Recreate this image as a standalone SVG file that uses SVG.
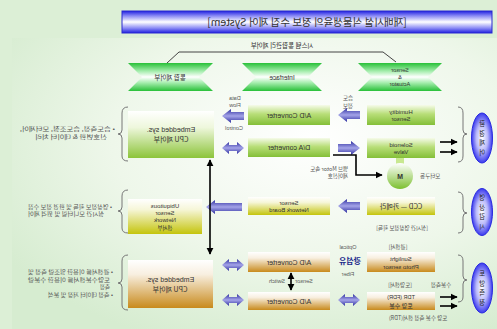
<svg xmlns="http://www.w3.org/2000/svg" width="497" height="329" viewBox="0 0 497 329">
<defs>
<style>
text { font-family: "Noto Sans CJK KR", "Noto Sans", sans-serif; fill: #333; }
.lat { font-family: "Liberation Sans", "Noto Sans CJK KR", sans-serif; }
.box { font-size: 7px; text-anchor: middle; fill: #333; }
.sm { font-size: 5.5px; fill: #555; text-anchor: middle; }
.desc { font-size: 5.5px; fill: #555; }
.brace { fill: none; stroke: #777; stroke-width: 1; }
.blk { stroke: #000; stroke-width: 1.6; fill: none; }
.ell { fill: url(#gEll); stroke: #2b2be0; stroke-width: 1; }
.vt { font-size: 6.3px; text-anchor: middle; fill: #222; }
</style>
<radialGradient id="gBg" cx="0.62" cy="0.35" r="0.75">
<stop offset="0" stop-color="#ffffff"/>
<stop offset="0.55" stop-color="#eef7ea"/>
<stop offset="1" stop-color="#d6ecd0"/>
</radialGradient>
<linearGradient id="gTitle" x1="0" y1="0" x2="0" y2="1">
<stop offset="0" stop-color="#2020e0"/>
<stop offset="0.22" stop-color="#8a8af5"/>
<stop offset="0.5" stop-color="#ffffff"/>
<stop offset="0.78" stop-color="#8a8af5"/>
<stop offset="1" stop-color="#2020e0"/>
</linearGradient>
<linearGradient id="gHead" x1="0" y1="0" x2="0" y2="1">
<stop offset="0" stop-color="#28c038"/>
<stop offset="0.3" stop-color="#a8eeb0"/>
<stop offset="0.5" stop-color="#ffffff"/>
<stop offset="0.7" stop-color="#a8eeb0"/>
<stop offset="1" stop-color="#28c038"/>
</linearGradient>
<linearGradient id="gGreen" x1="0" y1="0" x2="0" y2="1">
<stop offset="0" stop-color="#ffffff"/>
<stop offset="0.35" stop-color="#eef7dc"/>
<stop offset="1" stop-color="#8cc43a"/>
</linearGradient>
<linearGradient id="gBar" x1="0" y1="0" x2="0" y2="1">
<stop offset="0" stop-color="#f6fbea"/>
<stop offset="0.45" stop-color="#b8de78"/>
<stop offset="1" stop-color="#84bf38"/>
</linearGradient>
<linearGradient id="gYellow" x1="0" y1="0" x2="0" y2="1">
<stop offset="0" stop-color="#ffffff"/>
<stop offset="0.3" stop-color="#f6f6d8"/>
<stop offset="1" stop-color="#c4c40c"/>
</linearGradient>
<linearGradient id="gOrange" x1="0" y1="0" x2="0" y2="1">
<stop offset="0" stop-color="#ffffff"/>
<stop offset="0.3" stop-color="#f8efe0"/>
<stop offset="1" stop-color="#c88a1c"/>
</linearGradient>
<linearGradient id="gCircle" x1="0" y1="0" x2="0" y2="1">
<stop offset="0" stop-color="#ffffff"/>
<stop offset="1" stop-color="#7cc030"/>
</linearGradient>
<radialGradient id="gEll" cx="0.5" cy="0.5" r="0.5">
<stop offset="0" stop-color="#ffffff"/>
<stop offset="0.55" stop-color="#b8b8fa"/>
<stop offset="1" stop-color="#3a3aee"/>
</radialGradient>
<linearGradient id="gArr" x1="0" y1="0" x2="0" y2="1">
<stop offset="0" stop-color="#2e2ea0"/>
<stop offset="0.5" stop-color="#a4a4e8"/>
<stop offset="1" stop-color="#2e2ea0"/>
</linearGradient>
<polygon id="arrL" points="0,0 9,-7 9,-4 22,-4 22,4 9,4 9,7" fill="url(#gArr)"/>
<polygon id="arrLL" points="0,0 9,-7 9,-4 36,-4 36,4 9,4 9,7" fill="url(#gArr)"/>
<polygon id="arrD" points="0,0 7,-6 7,-3 15,-3 15,-6 22,0 15,6 15,3 7,3 7,6" fill="url(#gArr)"/>
<marker id="ah" viewBox="0 0 10 10" refX="9" refY="5" markerWidth="4.5" markerHeight="4.5" orient="auto-start-reverse"><path d="M0,0 L10,5 L0,10 z" fill="#000"/></marker>
</defs>

<rect width="497" height="329" fill="#dcefd6"/>
<rect x="12" y="38" width="485" height="291" fill="url(#gBg)"/>

<g id="title">
<rect x="122" y="11" width="370" height="22" fill="url(#gTitle)" stroke="#2a2ad0" stroke-width="1"/>
<text transform="matrix(-1 0 0 1 614 0)" x="307" y="25.5" style="font-size:10.5px;text-anchor:middle;fill:#333">[재배시설 식물생육의 정보 수집 제어 System]</text>
</g>

<g id="system-label">
<path d="M167,63 L179,52 L383,52 L396,62" fill="none" stroke="#444" stroke-width="1"/>
<text transform="matrix(-1 0 0 1 564 0)" x="282" y="48" style="font-size:6.5px;text-anchor:middle;fill:#333">시스템 통합관리 제어부</text>
</g>

<g id="header-control">
<polygon points="128,63 213,63 199,77 213,91 128,91 142,77" fill="url(#gHead)"/>
<text transform="matrix(-1 0 0 1 340 0)" x="170" y="79.5" style="font-size:6.5px;text-anchor:middle">통합 제어부</text>
</g>
<g id="header-interface">
<polygon points="242,63 322,63 308,77 322,91 242,91 256,77" fill="url(#gHead)"/>
<text transform="matrix(-1 0 0 1 564 0)" class="lat" x="282" y="79.5" style="font-size:6.5px;text-anchor:middle">Interface</text>
</g>
<g id="header-sensor">
<polygon points="358,63 442,63 428,77 442,91 358,91 372,77" fill="url(#gHead)"/>
<text transform="matrix(-1 0 0 1 800 0)" class="lat" x="400" y="72" style="font-size:5.5px;text-anchor:middle">Sensor</text>
<text transform="matrix(-1 0 0 1 800 0)" class="lat" x="400" y="79" style="font-size:5.5px;text-anchor:middle">&amp;</text>
<text transform="matrix(-1 0 0 1 800 0)" class="lat" x="400" y="86" style="font-size:5.5px;text-anchor:middle">Actuator</text>
</g>

<g id="cpu-top">
<rect x="128" y="111" width="86" height="47" fill="url(#gGreen)"/>
<text transform="matrix(-1 0 0 1 342 0)" class="box lat" x="171" y="132">Embedded sys.</text>
<text transform="matrix(-1 0 0 1 342 0)" class="box" x="171" y="142">CPU 제어부</text>
</g>
<g id="usn">
<rect x="128" y="199" width="74" height="35" fill="url(#gYellow)"/>
<text transform="matrix(-1 0 0 1 330 0)" class="box lat" x="165" y="208" style="font-size:6px">Ubiquitous</text>
<text transform="matrix(-1 0 0 1 330 0)" class="box lat" x="165" y="215" style="font-size:6px">Sensor</text>
<text transform="matrix(-1 0 0 1 330 0)" class="box lat" x="165" y="222" style="font-size:6px">Network</text>
<text transform="matrix(-1 0 0 1 330 0)" class="box" x="165" y="229.5" style="font-size:5.5px">센서부</text>
</g>
<g id="cpu-bottom">
<rect x="128" y="260" width="85" height="48" fill="url(#gOrange)"/>
<text transform="matrix(-1 0 0 1 340 0)" class="box lat" x="170" y="282">Embedded sys.</text>
<text transform="matrix(-1 0 0 1 340 0)" class="box" x="170" y="292">CPU 제어부</text>
</g>

<g id="ad1"><rect x="248" y="105" width="82" height="20" fill="url(#gBar)"/><text transform="matrix(-1 0 0 1 578 0)" class="box lat" x="289" y="117.5">A/D Converter</text></g>
<g id="da"><rect x="248" y="138" width="82" height="19" fill="url(#gBar)"/><text transform="matrix(-1 0 0 1 578 0)" class="box lat" x="289" y="150">D/A converter</text></g>
<g id="snb"><rect x="248" y="197" width="82" height="18" fill="url(#gYellow)"/><text transform="matrix(-1 0 0 1 578 0)" class="box lat" x="289" y="204.5" style="font-size:6px">Sensor</text><text transform="matrix(-1 0 0 1 578 0)" class="box lat" x="289" y="212" style="font-size:6px">Network Board</text></g>
<g id="ad2"><rect x="248" y="252" width="82" height="20" fill="url(#gOrange)"/><text transform="matrix(-1 0 0 1 578 0)" class="box lat" x="289" y="264.5">A/D Converter</text></g>
<g id="ad3"><rect x="248" y="292" width="82" height="18" fill="url(#gOrange)"/><text transform="matrix(-1 0 0 1 578 0)" class="box lat" x="289" y="303.5">A/D Converter</text></g>

<g id="humidity"><rect x="367" y="105" width="68" height="20" fill="url(#gBar)"/><text transform="matrix(-1 0 0 1 802 0)" class="box lat" x="401" y="113.5" style="font-size:6px">Humidity</text><text transform="matrix(-1 0 0 1 802 0)" class="box lat" x="401" y="121" style="font-size:6px">Sensor</text></g>
<g id="solenoid"><rect x="367" y="138" width="68" height="20" fill="url(#gBar)"/><text transform="matrix(-1 0 0 1 802 0)" class="box lat" x="401" y="146.5" style="font-size:6px">Solenoid</text><text transform="matrix(-1 0 0 1 802 0)" class="box lat" x="401" y="154" style="font-size:6px">Valve</text></g>
<g id="motor">
<rect x="396" y="158" width="8" height="6" fill="#c8e890"/>
<circle cx="400" cy="176" r="13" fill="url(#gCircle)"/>
<text transform="matrix(-1 0 0 1 800 0)" class="lat" x="400" y="179" style="font-size:7px;text-anchor:middle;font-weight:bold">M</text>
<text transform="matrix(-1 0 0 1 840 0)" x="420" y="178" style="font-size:5.5px;fill:#555;text-anchor:end">모터구동</text>
</g>
<g id="ccd"><rect x="367" y="197" width="68" height="18" fill="url(#gYellow)"/><text transform="matrix(-1 0 0 1 802 0)" class="box" x="401" y="208.5">CCD — 카메라</text></g>
<g id="photo"><rect x="367" y="252" width="68" height="20" fill="url(#gOrange)"/><text transform="matrix(-1 0 0 1 802 0)" class="box lat" x="401" y="260.5" style="font-size:6px">Sunlight</text><text transform="matrix(-1 0 0 1 802 0)" class="box lat" x="401" y="268.5" style="font-size:6px">Photo sensor</text></g>
<g id="soil"><rect x="367" y="292" width="68" height="18" fill="url(#gOrange)"/><text transform="matrix(-1 0 0 1 802 0)" class="box lat" x="401" y="299" style="font-size:5.5px">TDR    (FDR)</text><text transform="matrix(-1 0 0 1 802 0)" class="box" x="401" y="307.5" style="font-size:6px">토양 수분</text></g>

<g id="out-top"><ellipse class="ell" cx="482" cy="138" rx="10.5" ry="25"/>
<text transform="matrix(-1 0 0 1 964 0)" class="vt" x="482" y="126"><tspan x="482">환</tspan><tspan x="482" dy="9.5">경</tspan><tspan x="482" dy="9.5">제</tspan><tspan x="482" dy="9.5">어</tspan></text></g>
<g id="out-mid"><ellipse class="ell" cx="482" cy="212" rx="10.5" ry="23.5"/>
<text transform="matrix(-1 0 0 1 964 0)" class="vt" x="482" y="200"><tspan x="482">영</tspan><tspan x="482" dy="9.5">상</tspan><tspan x="482" dy="9.5">감</tspan><tspan x="482" dy="9.5">시</tspan></text></g>
<g id="out-bot"><ellipse class="ell" cx="482" cy="288" rx="10.5" ry="25"/>
<text transform="matrix(-1 0 0 1 964 0)" class="vt" x="482" y="276"><tspan x="482">토</tspan><tspan x="482" dy="9.5">양</tspan><tspan x="482" dy="9.5">측</tspan><tspan x="482" dy="9.5">정</tspan></text></g>

<g id="desc-top">
<path class="brace" d="M128,107 Q122,107 122,113 L122,130 Q122,134 118,134 Q122,134 122,138 L122,156 Q122,161 128,161"/>
<text transform="matrix(-1 0 0 1 230 0)" class="desc" x="115" y="131" text-anchor="start" textLength="95" lengthAdjust="spacingAndGlyphs">• 습도측정, 습도조절, 모터제어,</text>
<text transform="matrix(-1 0 0 1 142 0)" class="desc" x="71" y="139" text-anchor="middle" textLength="72" lengthAdjust="spacingAndGlyphs">신호변환 &amp; 데이터 처리</text>
</g>
<g id="desc-mid">
<path class="brace" d="M128,190 Q122,190 122,196 L122,207 Q122,211 118,211 Q122,211 122,215 L122,228 Q122,233 128,233"/>
<text transform="matrix(-1 0 0 1 224 0)" class="desc" x="112" y="208.5" text-anchor="start" textLength="84" lengthAdjust="spacingAndGlyphs">• 영상정보 획득 및 환경 정보 수집</text>
<text transform="matrix(-1 0 0 1 208 0)" class="desc" x="104" y="216" text-anchor="start" textLength="76" lengthAdjust="spacingAndGlyphs">실시간 모니터링 및 원격 제어</text>
</g>
<g id="desc-bot">
<path class="brace" d="M128,255 Q122,255 122,261 L122,279 Q122,283 118,283 Q122,283 122,287 L122,305 Q122,310 128,310"/>
<text transform="matrix(-1 0 0 1 226 0)" class="desc" x="113" y="274" text-anchor="start" textLength="85" lengthAdjust="spacingAndGlyphs">• 광센서를 이용한 일조량 측정 및</text>
<text transform="matrix(-1 0 0 1 220 0)" class="desc" x="110" y="281.5" text-anchor="start" textLength="82" lengthAdjust="spacingAndGlyphs">토양수분센서를 이용한 수분량</text>
<text transform="matrix(-1 0 0 1 220 0)" class="desc" x="110" y="289" text-anchor="start">측정</text>
<text transform="matrix(-1 0 0 1 226 0)" class="desc" x="113" y="296.5" text-anchor="start" textLength="65" lengthAdjust="spacingAndGlyphs">• 측정 데이터 저장 및 분석</text>
</g>

<g id="braces-right">
<path class="brace" d="M458,107 Q463,107 463,113 L463,130 Q463,134 467,134 Q463,134 463,138 L463,156 Q463,162 458,162"/>
<path class="brace" d="M458,192 Q463,192 463,198 L463,209 Q463,213 467,213 Q463,213 463,217 L463,228 Q463,233 458,233"/>
<path class="brace" d="M458,255 Q463,255 463,261 L463,276 Q463,280 467,280 Q463,280 463,284 L463,297 Q463,302 458,302"/>
</g>

<g id="labels">
<text transform="matrix(-1 0 0 1 696 0)" class="sm" x="348" y="100">습도</text>
<text transform="matrix(-1 0 0 1 696 0)" class="sm" x="348" y="107.5">정보</text>
<text transform="matrix(-1 0 0 1 470 0)" class="sm lat" x="235" y="100">Data</text>
<text transform="matrix(-1 0 0 1 470 0)" class="sm lat" x="235" y="106.5">Flow</text>
<text transform="matrix(-1 0 0 1 468 0)" class="sm lat" x="234" y="130">Control</text>
<text transform="matrix(-1 0 0 1 696 0)" class="sm" x="348" y="170.5" style="text-anchor:start">밸브 Motor 속도</text>
<text transform="matrix(-1 0 0 1 696 0)" class="sm" x="348" y="178" style="text-anchor:start">제어신호</text>
<text transform="matrix(-1 0 0 1 804 0)" class="sm" x="402" y="229.5">[실시간 영상정보 획득]</text>
<text transform="matrix(-1 0 0 1 796 0)" class="sm" x="398" y="248.5">[광센서]</text>
<text transform="matrix(-1 0 0 1 696 0)" class="sm lat" x="348" y="249">Optical</text>
<text transform="matrix(-1 0 0 1 700 0)" x="350" y="264" style="font-size:8px;font-weight:bold;fill:#1c2a8a;text-anchor:middle">광섬유</text>
<text transform="matrix(-1 0 0 1 696 0)" class="sm lat" x="348" y="275.5">Fiber</text>
<text transform="matrix(-1 0 0 1 554 0)" class="sm lat" x="277" y="283">Switch</text>
<text transform="matrix(-1 0 0 1 608 0)" class="sm lat" x="304" y="283">Sensor</text>
<text transform="matrix(-1 0 0 1 800 0)" class="sm" x="400" y="286.5">[토양센서]</text>
<text transform="matrix(-1 0 0 1 882 0)" class="sm" x="441" y="286.5">수분측정</text>
<text transform="matrix(-1 0 0 1 836 0)" class="sm" x="418" y="320">토양 수분 측정 센서(TDR)</text>
</g>

<g id="connectors">
<use href="#arrL" transform="translate(338,115)"/>
<use href="#arrL" transform="translate(360,148) scale(-1,1)"/>
<use href="#arrL" transform="translate(222,116)"/>
<use href="#arrD" transform="translate(222,148)"/>
<use href="#arrLL" transform="translate(206,207)"/>
<use href="#arrL" transform="translate(338,206)"/>
<use href="#arrD" transform="translate(222,265)"/>
<use href="#arrD" transform="translate(222,300)"/>
<use href="#arrD" transform="translate(338,300)"/>
<line class="blk" x1="210" y1="160" x2="210" y2="254" marker-start="url(#ah)" marker-end="url(#ah)"/>
<line class="blk" x1="291" y1="273" x2="291" y2="290" stroke-width="1.2" marker-start="url(#ah)" marker-end="url(#ah)"/>
<path class="blk" d="M333,155 L356,155 L356,175 L382,175" marker-end="url(#ah)"/>
<line class="blk" x1="440" y1="142" x2="457" y2="142" marker-end="url(#ah)"/>
<line class="blk" x1="440" y1="152" x2="457" y2="152" marker-end="url(#ah)"/>
<line class="blk" x1="440" y1="297" x2="457" y2="297" marker-end="url(#ah)"/>
<line class="blk" x1="440" y1="306" x2="457" y2="306" marker-end="url(#ah)"/>
</g>
</svg>
